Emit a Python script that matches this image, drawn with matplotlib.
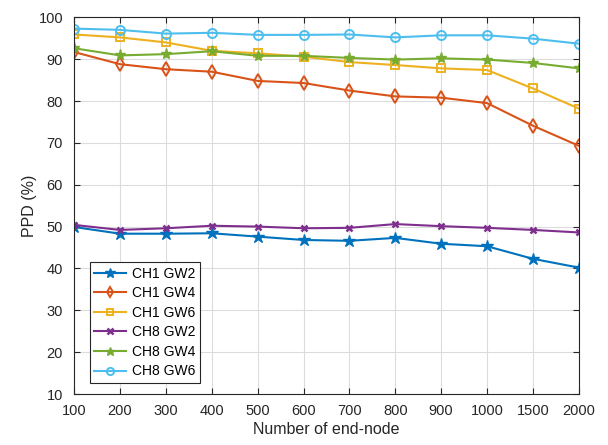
import matplotlib
matplotlib.use('Agg')
import matplotlib.pyplot as plt
import numpy as np

nodes = ['100', '200', '300', '400', '500', '600', '700', '800', '900', '1000', '1500', '2000']

ch1_gw2 = [49.9, 48.3, 48.3, 48.4, 47.6, 46.8, 46.6, 47.3, 45.9, 45.3, 42.3, 40.2]
ch1_gw4 = [91.7, 88.8, 87.6, 87.0, 84.8, 84.3, 82.5, 81.1, 80.8, 79.5, 74.1, 69.3]
ch1_gw6 = [95.9, 95.2, 94.0, 92.0, 91.4, 90.6, 89.3, 88.6, 87.8, 87.4, 83.0, 78.2]
ch8_gw2 = [50.4, 49.2, 49.6, 50.2, 50.0, 49.6, 49.7, 50.6, 50.1, 49.7, 49.2, 48.6]
ch8_gw4 = [92.6, 90.9, 91.2, 91.9, 90.8, 90.8, 90.3, 89.9, 90.2, 89.9, 89.1, 87.8]
ch8_gw6 = [97.3, 97.0, 96.1, 96.3, 95.8, 95.8, 95.9, 95.2, 95.7, 95.7, 94.9, 93.7]

plt.rcParams['font.family'] = ['Liberation Sans', 'DejaVu Sans']

fig = plt.figure(figsize=(6.08, 4.45), dpi=100)
ax = fig.add_axes([0.122, 0.1146, 0.830, 0.8465])

x = np.arange(len(nodes))
ax.plot(x, ch1_gw2, '-*', color='#0072BD', lw=1.5, ms=9, label='CH1 GW2')
ax.plot(x, ch1_gw4, '-d', color='#D95319', lw=1.5, ms=7, mfc='none', mew=1.4, label='CH1 GW4')
ax.plot(x, ch1_gw6, '-s', color='#EDB120', lw=1.5, ms=6, mfc='none', mew=1.4, label='CH1 GW6')
ax.plot(x, ch8_gw2, '-x', color='#7E2F8E', lw=1.5, ms=5, mew=1.8, label='CH8 GW2')
ax.plot(x, ch8_gw4, '-*', color='#77AC30', lw=1.5, ms=8, label='CH8 GW4')
ax.plot(x, ch8_gw6, '-o', color='#4DBEEE', lw=1.5, ms=6.5, mfc='none', mew=1.4, label='CH8 GW6')

ax.set_xlim(0, len(nodes) - 1)
ax.set_ylim(10, 100)
ax.set_xticks(x)
ax.set_xticklabels(nodes)
ax.set_yticks(np.arange(10, 101, 10))
ax.tick_params(direction='in', top=True, right=True, labelsize=10.5, colors='#262626', length=4)
ax.tick_params(axis='x', pad=7)
ax.tick_params(axis='y', pad=8)
ax.grid(True, color='#dcdcdc', lw=0.8)
for s in ax.spines.values():
    s.set_color('#262626')
ax.set_xlabel('Number of end-node', fontsize=11.5, color='#262626', labelpad=3)
ax.set_ylabel('PPD (%)', fontsize=11.5, color='#262626', labelpad=1)

leg = ax.legend(loc='lower left', bbox_to_anchor=(0.018, 0.012), fontsize=10, fancybox=False,
                edgecolor='#262626', framealpha=1, handlelength=2.3, borderpad=0.3,
                labelspacing=0.4, handletextpad=0.4, markerscale=0.8)
leg.get_frame().set_linewidth(0.8)

fig.savefig('out.png', dpi=100)
